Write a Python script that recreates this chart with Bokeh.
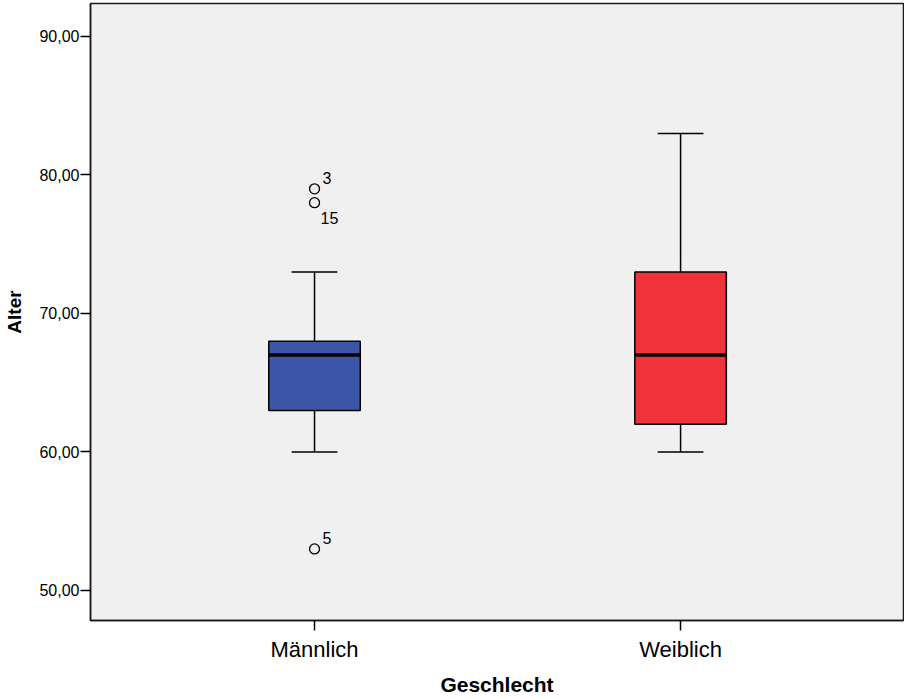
from bokeh.plotting import figure
from bokeh.models import ColumnDataSource, FixedTicker, Range1d
from bokeh.core.properties import value
from bokeh.embed import file_html
from bokeh.resources import INLINE

# Boxplot statistics of age (Alter) by sex (Geschlecht)
groups = ["Männlich", "Weiblich"]
group_pos = [1, 2]
q1 = [63, 62]
median = [67, 67]
q3 = [68, 73]
whisker_low = [60, 60]
whisker_high = [73, 83]
box_colors = ["#3C56A9", "#F0323A"]

# Outliers with their case numbers
outlier_pos = [1, 1, 1]
outlier_vals = [79, 78, 53]
outlier_ids = ["3", "15", "5"]

y_ticks = [50, 60, 70, 80, 90]
y_tick_labels = ["50,00", "60,00", "70,00", "80,00", "90,00"]

FONT = "Liberation Sans"
BOX_W = 0.25
CAP_W = 0.125

p = figure(width=904, height=698, output_backend="svg", toolbar_location=None,
           x_range=Range1d(0.388, 2.609), y_range=Range1d(47.83, 92.38),
           min_border_left=90, min_border_right=1, min_border_top=3,
           min_border_bottom=78)

p.background_fill_color = "#F0F0F0"
p.border_fill_color = "white"
p.outline_line_color = "#1a1a1a"
p.outline_line_width = 1.5
p.xgrid.visible = False
p.ygrid.visible = False

src = ColumnDataSource(dict(
    x=group_pos, q1=q1, med=median, q3=q3, lo=whisker_low, hi=whisker_high,
    color=box_colors,
    cl=[x - CAP_W / 2 for x in group_pos], cr=[x + CAP_W / 2 for x in group_pos],
    bl=[x - BOX_W / 2 for x in group_pos], br=[x + BOX_W / 2 for x in group_pos],
))

# whisker stems and caps
p.segment(x0="x", y0="q3", x1="x", y1="hi", source=src, line_color="black", line_width=1.5)
p.segment(x0="x", y0="q1", x1="x", y1="lo", source=src, line_color="black", line_width=1.5)
p.segment(x0="cl", y0="hi", x1="cr", y1="hi", source=src, line_color="black", line_width=1.5)
p.segment(x0="cl", y0="lo", x1="cr", y1="lo", source=src, line_color="black", line_width=1.5)

# boxes and medians
p.vbar(x="x", width=BOX_W, bottom="q1", top="q3", source=src,
       fill_color="color", line_color="black", line_width=1.5)
p.segment(x0="bl", y0="med", x1="br", y1="med", source=src, line_color="black", line_width=3.5)

# outliers
out_src = ColumnDataSource(dict(x=outlier_pos, y=outlier_vals, id=outlier_ids,
                                dx=[8, 6, 8], dy=[-11, 15, -11]))
p.scatter(x="x", y="y", source=out_src, marker="circle", size=10,
          fill_color=None, line_color="black", line_width=1.3)
p.text(x="x", y="y", text="id", source=out_src, x_offset="dx", y_offset="dy",
       text_font=value(FONT), text_font_size="16px", text_color="black",
       text_align="left", text_baseline="middle")

# y axis
p.yaxis.ticker = FixedTicker(ticks=y_ticks)
p.yaxis.major_label_overrides = {t: l for t, l in zip(y_ticks, y_tick_labels)}
p.yaxis.axis_label = "Alter"
p.yaxis.axis_label_text_font = FONT
p.yaxis.axis_label_text_font_style = "bold"
p.yaxis.axis_label_text_font_size = "19px"
p.yaxis.axis_label_standoff = 11
p.yaxis.major_label_text_font = FONT
p.yaxis.major_label_text_font_size = "16px"
p.yaxis.major_label_standoff = 1

# x axis
p.xaxis.ticker = FixedTicker(ticks=group_pos)
p.xaxis.major_label_overrides = {t: g for t, g in zip(group_pos, groups)}
p.xaxis.axis_label = "Geschlecht"
p.xaxis.axis_label_text_font = FONT
p.xaxis.axis_label_text_font_style = "bold"
p.xaxis.axis_label_text_font_size = "21px"
p.xaxis.axis_label_standoff = 8
p.xaxis.major_label_text_font = FONT
p.xaxis.major_label_text_font_size = "22px"
p.xaxis.major_label_standoff = 6

for ax in (p.xaxis, p.yaxis):
    ax.axis_line_color = "#1a1a1a"
    ax.axis_line_width = 1.5
    ax.major_tick_line_color = "black"
    ax.major_tick_line_width = 1.5
    ax.major_tick_out = 10
    ax.major_tick_in = 0
    ax.minor_tick_line_color = None
    ax.major_label_text_color = "black"
    ax.axis_label_text_color = "black"

open("out.html", "w").write(file_html(p, INLINE))
